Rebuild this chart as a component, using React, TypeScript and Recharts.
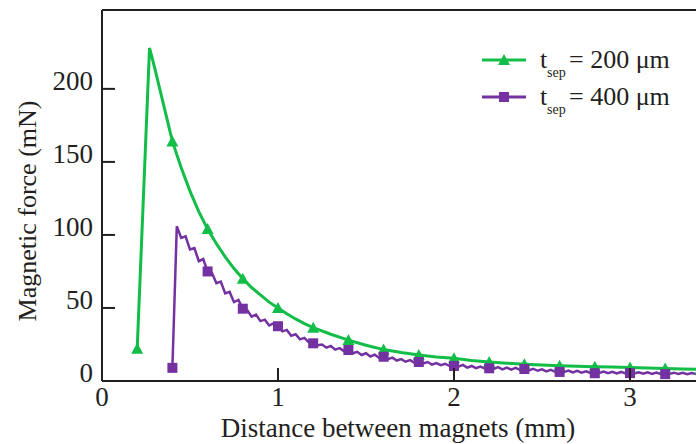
import React from "react";
import { LineChart, Line, XAxis, YAxis, ReferenceLine, Legend } from "recharts";

const GREEN = "#12bd48";
const PURPLE = "#7431a2";
const INK = "#231f20";
const FONT = "'Liberation Serif', 'Times New Roman', serif";

const xTicks = [0, 1, 2, 3];
const yTicks = [0, 50, 100, 150, 200];
const markerX = [0.2, 0.4, 0.6, 0.8, 1.0, 1.2, 1.4, 1.6, 1.8, 2.0, 2.2, 2.4, 2.6, 2.8, 3.0, 3.2, 3.4];

// t_sep = 200 um
const sep200X = [
  0.2, 0.27, 0.3, 0.35, 0.4, 0.45, 0.5, 0.55, 0.6, 0.65, 0.7, 0.75, 0.8, 0.85, 0.9, 0.95,
  1.0, 1.05, 1.1, 1.15, 1.2, 1.3, 1.4, 1.5, 1.6, 1.7, 1.8, 1.9, 2.0, 2.1, 2.2, 2.3, 2.4, 2.5, 2.6,
  2.7, 2.8, 2.9, 3.0, 3.1, 3.2, 3.3, 3.4,
];
const sep200Y = [
  22, 228, 214, 189, 164, 146, 130, 116, 104, 94, 85, 77, 70, 64, 59, 54,
  50, 46, 42.5, 39.3, 36.5, 32, 28, 24.5, 21.5, 19.5, 17.8, 16.5, 15.5, 14, 13, 12.2, 11.5, 11, 10.5,
  10.1, 9.8, 9.5, 9.2, 8.9, 8.6, 8.3, 8,
];

// t_sep = 400 um (noisy trace)
const sep400X = [
  0.4, 0.425, 0.45, 0.475, 0.5, 0.525, 0.55, 0.575,
  0.6, 0.625, 0.65, 0.675, 0.7, 0.725, 0.75, 0.775,
  0.8, 0.825, 0.85, 0.875, 0.9, 0.925, 0.95, 0.975,
  1.0, 1.025, 1.05, 1.075, 1.1, 1.125, 1.15, 1.175,
  1.2, 1.225, 1.25, 1.275, 1.3, 1.325, 1.35, 1.375,
  1.4, 1.425, 1.45, 1.475, 1.5, 1.525, 1.55, 1.575,
  1.6, 1.625, 1.65, 1.675, 1.7, 1.725, 1.75, 1.775,
  1.8, 1.825, 1.85, 1.875, 1.9, 1.925, 1.95, 1.975,
  2.0, 2.025, 2.05, 2.075, 2.1, 2.125, 2.15, 2.175,
  2.2, 2.225, 2.25, 2.275, 2.3, 2.325, 2.35, 2.375,
  2.4, 2.425, 2.45, 2.475, 2.5, 2.525, 2.55, 2.575,
  2.6, 2.625, 2.65, 2.675, 2.7, 2.725, 2.75, 2.775,
  2.8, 2.825, 2.85, 2.875, 2.9, 2.925, 2.95, 2.975,
  3.0, 3.025, 3.05, 3.075, 3.1, 3.125, 3.15, 3.175,
  3.2, 3.225, 3.25, 3.275, 3.3, 3.325, 3.35, 3.375,
];
const sep400Y = [
  9, 106, 98, 99, 90, 91, 82, 83.5,
  75, 74, 67, 68, 60, 61, 54, 55.5,
  49.5, 48.5, 44, 45.5, 41, 42, 38, 39.5,
  37.5, 34, 35, 31, 32, 28.5, 29.5, 26.5,
  25.8, 24.5, 25, 22.8, 24, 21.5, 22.5, 20.5,
  21.2, 19, 20, 17.8, 19, 16.8, 18, 15.8,
  16.6, 15, 16, 14, 15, 13.2, 14.3, 12.6,
  13, 12, 13, 11.2, 12.3, 10.8, 11.8, 10.2,
  10.3, 9.8, 11, 9.2, 10.3, 8.8, 9.9, 8.5,
  8.7, 8.3, 9.5, 8, 9.2, 7.8, 9, 7.6,
  8.2, 7.3, 8.4, 7, 8, 6.6, 7.6, 6.3,
  6.2, 6.1, 7.2, 5.9, 6.9, 5.7, 6.7, 5.5,
  5.3, 5.5, 6.5, 5.3, 6.3, 5.2, 6.2, 5.1,
  5.4, 5.1, 6, 5, 5.9, 4.9, 5.8, 4.8,
  4.7, 4.9, 5.7, 4.8, 5.6, 4.7, 5.5, 4.8,
];

const data200 = sep200X.map((x, i) => ({ x, y: sep200Y[i] }));
const data400 = sep400X.map((x, i) => ({ x, y: sep400Y[i] }));

const isMarker = (x: number) => markerX.some((m) => Math.abs(m - x) < 1e-6);

function TriangleDot(props: any) {
  const { cx, cy, payload, index } = props;
  if (!isMarker(payload.x)) return <g key={`t${index}`} />;
  return (
    <path
      key={`t${index}`}
      d={`M${cx},${cy - 6} L${cx + 6},${cy + 5} L${cx - 6},${cy + 5} Z`}
      fill={GREEN}
    />
  );
}

function SquareDot(props: any) {
  const { cx, cy, payload, index } = props;
  if (!isMarker(payload.x)) return <g key={`s${index}`} />;
  return <rect key={`s${index}`} x={cx - 5} y={cy - 5} width={10} height={10} fill={PURPLE} />;
}

function XTick({ x, y, payload }: any) {
  return (
    <g>
      <line x1={x} x2={x} y1={y} y2={y - 13} stroke={INK} strokeWidth={2} />
      <text x={x} y={y + 25} textAnchor="middle" fontSize={27} fontFamily={FONT} fill={INK}>
        {payload.value}
      </text>
    </g>
  );
}

function YTick({ x, y, payload }: any) {
  return (
    <g>
      <line x1={x} x2={x + 13} y1={y} y2={y} stroke={INK} strokeWidth={2} />
      <text x={x - 9} y={y + 1} textAnchor="end" fontSize={27} fontFamily={FONT} fill={INK}>
        {payload.value}
      </text>
    </g>
  );
}

const legendRows = [
  { value: "= 200 μm", color: GREEN, shape: "triangle" },
  { value: "= 400 μm", color: PURPLE, shape: "square" },
];

function LegendBox() {
  return (
    <svg width={226} height={90}>
      {legendRows.map((r, i) => {
        const ly = 30 + i * 37;
        return (
          <g key={r.value}>
            <line x1={12} x2={56} y1={ly} y2={ly} stroke={r.color} strokeWidth={3} />
            {r.shape === "triangle" ? (
              <path d={`M34,${ly - 6} L40,${ly + 5} L28,${ly + 5} Z`} fill={r.color} />
            ) : (
              <rect x={29} y={ly - 5} width={10} height={10} fill={r.color} />
            )}
            <text x={70} y={ly + 8} fontSize={26} fontFamily={FONT} fill={INK}>t</text>
            <text x={77} y={ly + 17} fontSize={14} fontFamily={FONT} fill={INK}>sep</text>
            <text x={99} y={ly + 8} fontSize={26} fontFamily={FONT} fill={INK}>{r.value}</text>
          </g>
        );
      })}
    </svg>
  );
}

export default function App() {
  return (
    <div style={{ position: "absolute", left: 0, top: 0, background: "#fff" }}>
      <LineChart width={696} height={444} margin={{ top: 10, right: 0, left: 0, bottom: 0 }}>
        <XAxis
          type="number"
          dataKey="x"
          domain={[0, 3.375]}
          ticks={xTicks}
          allowDataOverflow
          height={63}
          tickSize={0}
          tickMargin={0}
          tickLine={false}
          tick={<XTick />}
          axisLine={{ stroke: INK, strokeWidth: 2 }}
          label={{
            content: () => (
              <text x={398} y={437} textAnchor="middle" fontSize={27} fontFamily={FONT} fill={INK}>
                Distance between magnets (mm)
              </text>
            ),
          }}
        />
        <YAxis
          type="number"
          domain={[0, 254]}
          ticks={yTicks}
          width={102}
          tickSize={0}
          tickMargin={0}
          tickLine={false}
          tick={<YTick />}
          axisLine={{ stroke: INK, strokeWidth: 2 }}
          label={{
            content: () => (
              <text
                x={36}
                y={211}
                transform="rotate(-90, 36, 211)"
                textAnchor="middle"
                fontSize={26}
                fontFamily={FONT}
                fill={INK}
              >
                Magnetic force (mN)
              </text>
            ),
          }}
        />
        <ReferenceLine y={254} stroke={INK} strokeWidth={2} />
        <Legend
          layout="horizontal"
          align="center"
          verticalAlign="middle"
          content={() => <LegendBox />}
          wrapperStyle={{ position: "absolute", left: 470, top: 30, width: 226, height: 90 }}
        />
        <Line
          data={data200}
          dataKey="y"
          type="linear"
          stroke={GREEN}
          strokeWidth={3}
          dot={TriangleDot}
          activeDot={false}
          isAnimationActive={false}
        />
        <Line
          data={data400}
          dataKey="y"
          type="linear"
          stroke={PURPLE}
          strokeWidth={2.5}
          dot={SquareDot}
          activeDot={false}
          isAnimationActive={false}
        />
      </LineChart>
    </div>
  );
}
